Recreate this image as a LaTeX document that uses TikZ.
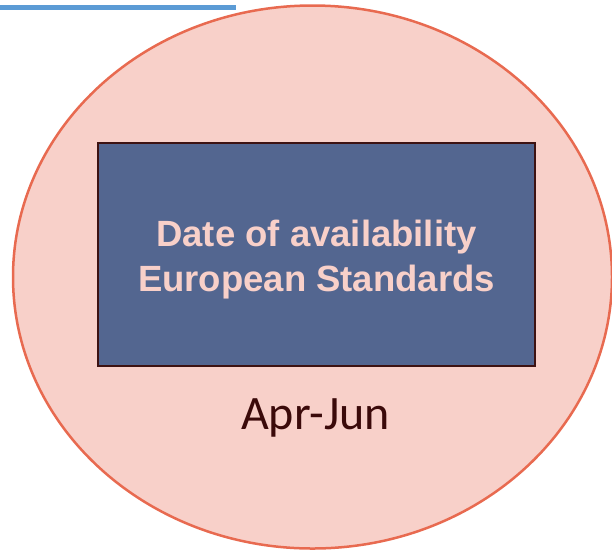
\documentclass[tikz,border=0pt]{standalone}
\usepackage{fontspec}
\setmainfont{Liberation Sans}
\newfontfamily\calfont{Carlito}
\usetikzlibrary{shapes.geometric,calc,positioning}
\definecolor{ovalfill}{HTML}{F8D0C9}
\definecolor{ovalline}{HTML}{E86A50}
\definecolor{boxfill}{HTML}{536690}
\definecolor{boxline}{HTML}{3D1212}
\definecolor{datetext}{HTML}{3B0A0A}
\definecolor{rulecol}{HTML}{5B9BD5}

\begin{document}
\begin{tikzpicture}[x=1pt, y=-1pt]
    \tikzset{OvalStyle/.style = {ellipse, draw=ovalline, fill=ovalfill,
        line width=2.5pt, minimum width=599pt, minimum height=543pt, inner sep=0pt},
      BoxStyle/.style = {rectangle, draw=boxline, fill=boxfill,
        line width=2pt, minimum width=437pt, minimum height=223pt, inner sep=0pt},
      TitleStyle/.style = {align=center, text=ovalfill, inner sep=0pt,
        font=\fontsize{36.5}{45}\selectfont\bfseries},
      DateStyle/.style = {text=datetext, inner sep=0pt, anchor=base,
        font=\fontsize{48}{56}\selectfont\calfont}}
    \useasboundingbox (0,0) rectangle (612,550);
    % top rule
    \coordinate (ruleA) at (0,7.3);
    \coordinate (ruleB) at (236,7.3);
    \draw[rulecol, line width=5.5pt] (ruleA) -- (ruleB);
    % oval with box
    \node[OvalStyle] (oval) at (312.5,277) {};
    \node[BoxStyle] (box) at (316.5,254.5) {};
    \node[TitleStyle] (title) at ($(box.center)+(0,5)$) {Date of availability\\European Standards};
    \node[DateStyle] (period) at (315.5,429) {Apr-Jun};
  \end{tikzpicture}
\end{document}
